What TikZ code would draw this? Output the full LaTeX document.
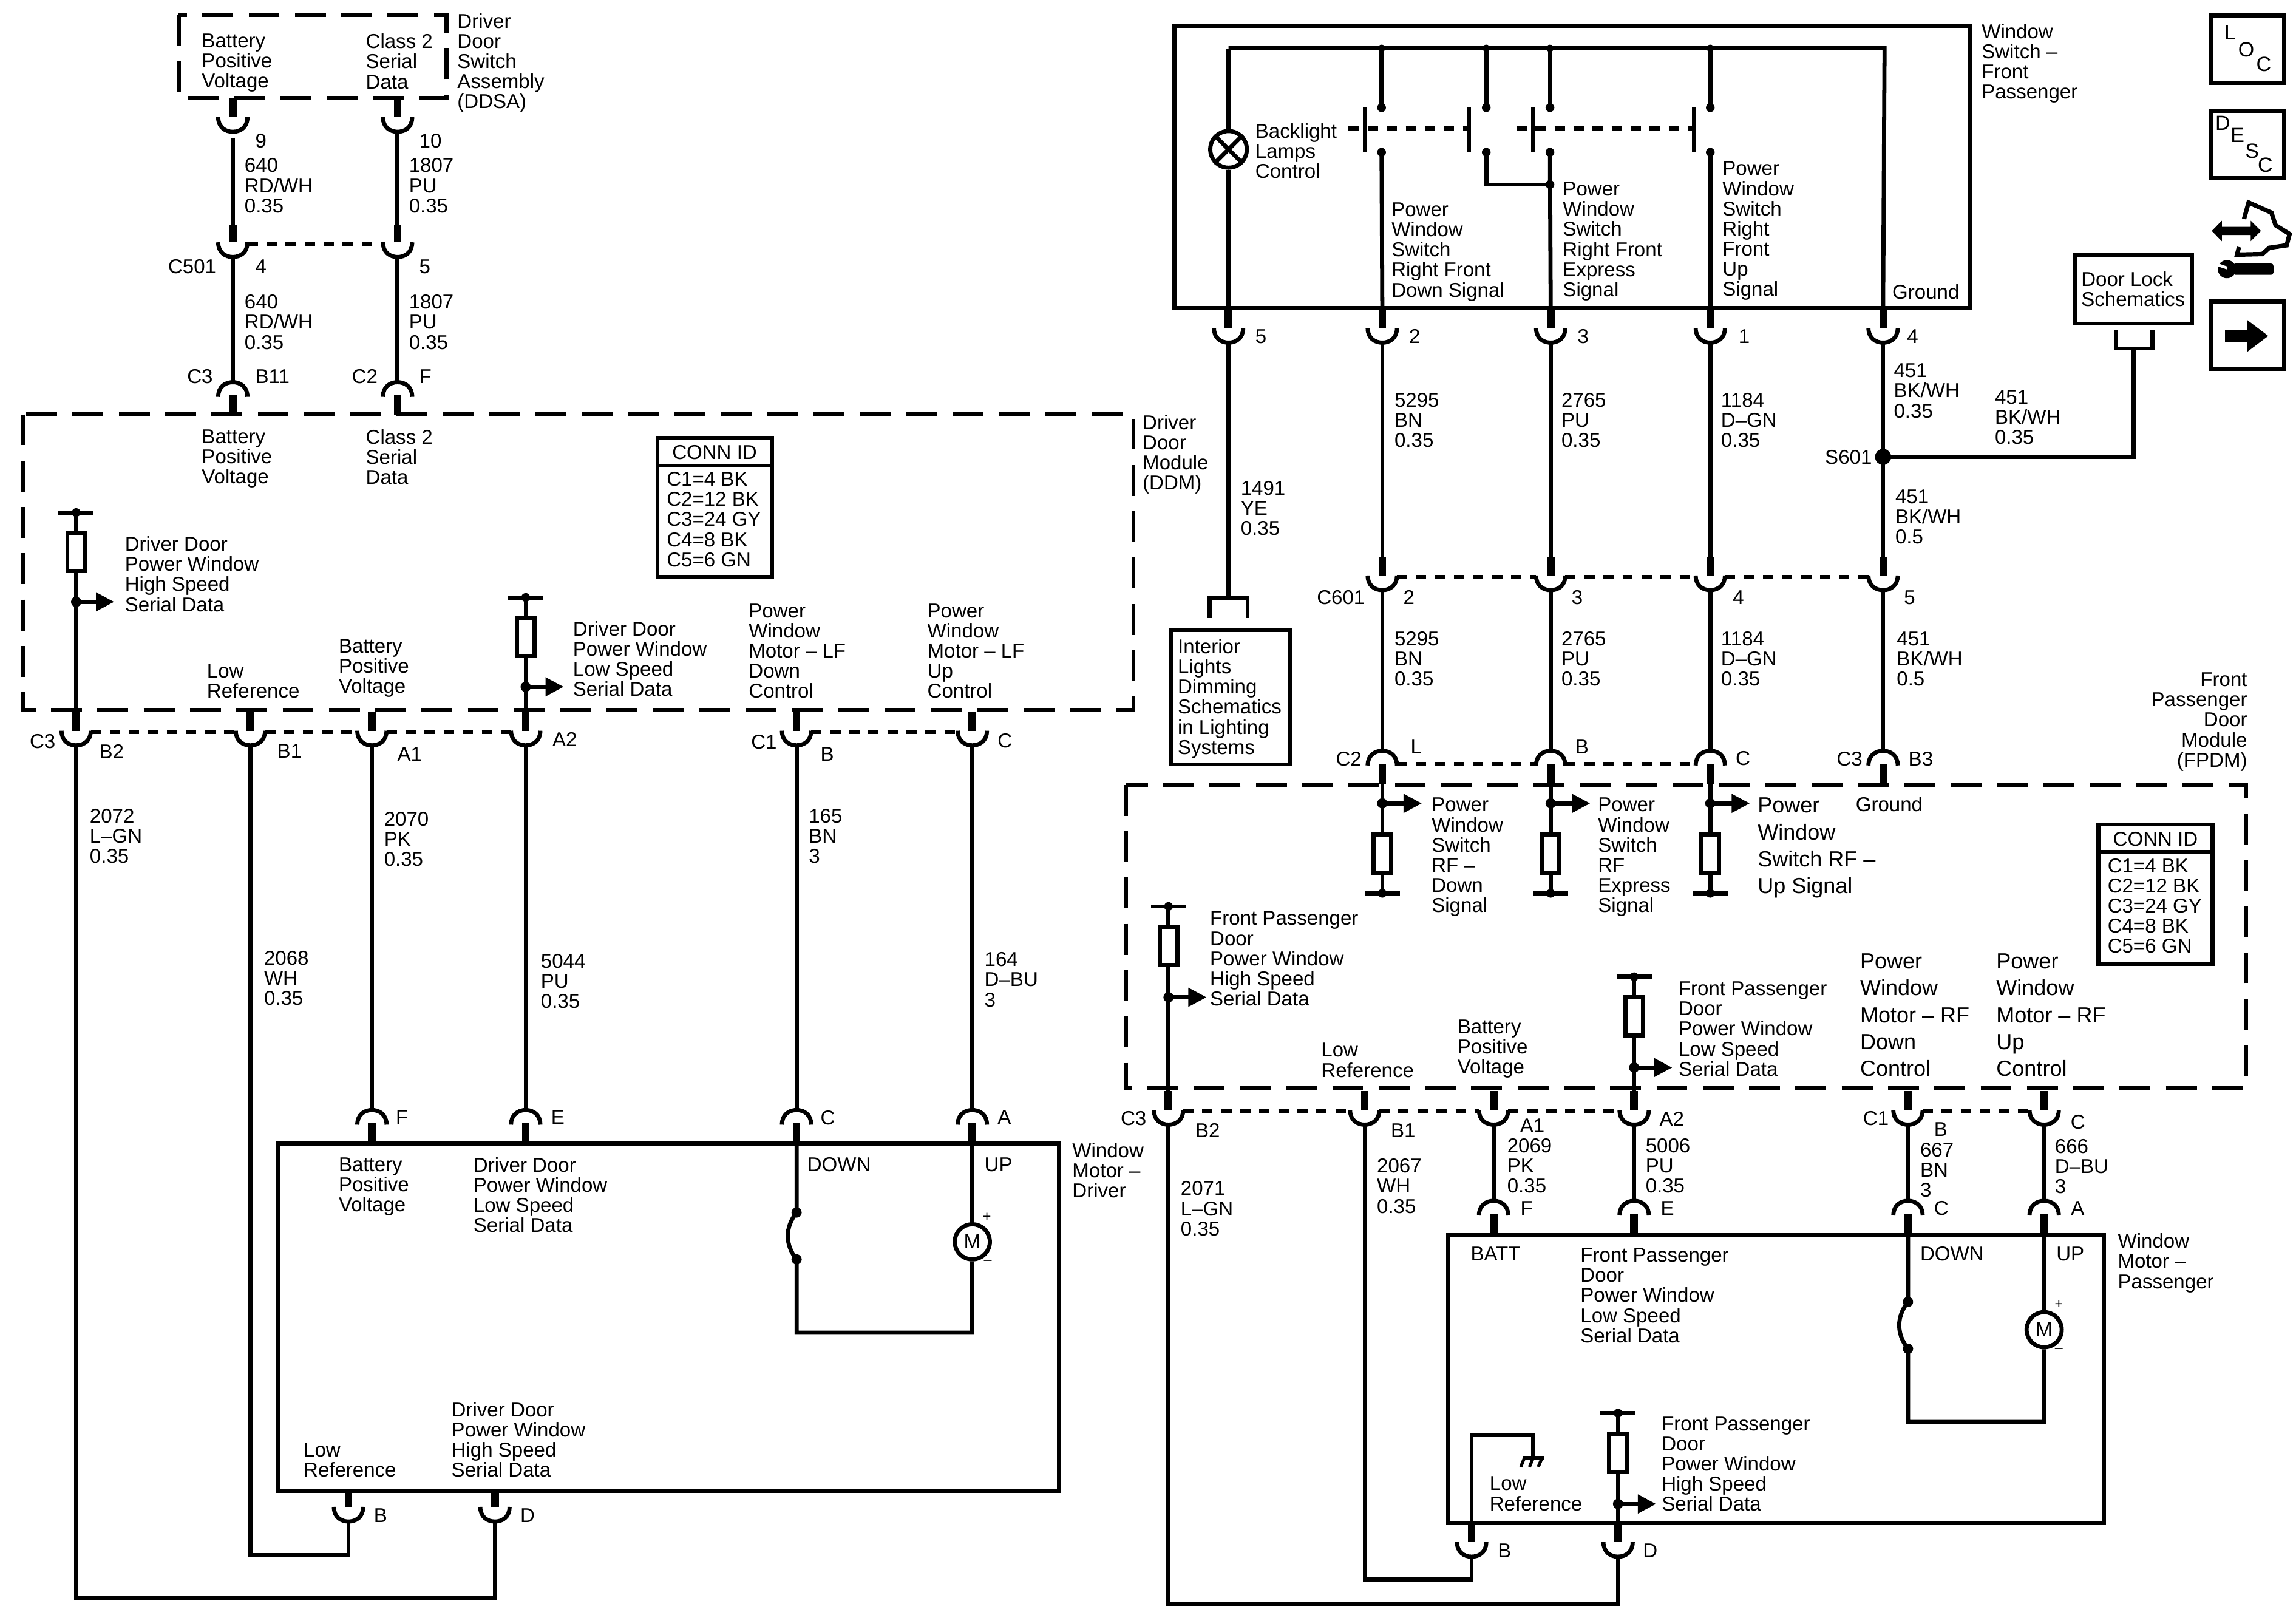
\documentclass[tikz,border=0pt]{standalone}
\usepackage{fontspec}
\setmainfont{Liberation Sans}
\usetikzlibrary{arrows.meta}

\begin{document}
\begin{tikzpicture}[x=0.02cm, y=-0.02cm,
		wire/.style={line width=1.6pt},
		stub/.style={line width=3pt},
		sys/.style={line width=1.7pt},
		modbox/.style={line width=1.6pt, dash pattern=on 12pt off 6pt},
		shortdash/.style={line width=1.6pt, dash pattern=on 4pt off 3.4pt},
		sig/.style={line width=1.6pt, -{Triangle[length=7.1pt, width=7pt]}},
		txt/.style={anchor=north west, align=left, inner sep=0pt, font=\fontsize{7.8}{7.82}\selectfont},
		bigtxt/.style={anchor=north west, align=left, inner sep=0pt, font=\fontsize{8.5}{10.4}\selectfont},
		rtxt/.style={anchor=north east, align=right, inner sep=0pt, font=\fontsize{7.8}{7.82}\selectfont},
		sign/.style={inner sep=0pt, font=\fontsize{5.5}{6}\selectfont},
		letter/.style={inner sep=0pt, font=\fontsize{8}{8}\selectfont},
		motor/.style={circle, draw, line width=1.6pt, fill=white, minimum size=0.48cm, inner sep=0pt, font=\fontsize{7.9}{8}\selectfont},
		lamp/.style={circle, draw, line width=1.6pt, fill=white, minimum size=0.5cm, inner sep=0pt},
		pics/cup/.style={code={
			\draw[wire] (-10,-10) .. controls (-10,-3) and (-5,0) .. (0,0) .. controls (5,0) and (10,-3) .. (10,-10);
			\draw[stub] (0,-10) -- (0,-10-#1);
			\coordinate (-top) at (0,-10-#1);
			\coordinate (-bot) at (0,0);
			\coordinate (-l) at (-10,-9);
			\coordinate (-r) at (10,-9);
		}},
		pics/cup/.default=13,
		pics/cap/.style={code={
			\draw[wire] (-10,10) .. controls (-10,3) and (-5,0) .. (0,0) .. controls (5,0) and (10,3) .. (10,10);
			\draw[stub] (0,9) -- (0,9+#1);
			\coordinate (-top) at (0,0);
			\coordinate (-bot) at (0,9+#1);
			\coordinate (-l) at (-10,9);
			\coordinate (-r) at (10,9);
		}},
		pics/cap/.default=13,
		pics/pullup/.style={code={
			\draw[wire] (-12,0) -- (12,0);
			\fill (0,0) circle (3);
			\draw[wire] (0,0) -- (0,14);
			\draw[wire] (-6,14) rectangle (6,40);
			\coordinate (-out) at (0,40);
		}},
		pics/connid/.style={code={
			\draw[wire] (0,0) rectangle (78,95);
			\draw[wire] (0,19) -- (78,19);
			\node [inner sep=0pt, font=\fontsize{7.8}{7.82}\selectfont] (-head) at (39,10) {CONN ID};
			\node [txt] (-list) at (6,23) {C1=4 BK\\C2=12 BK\\C3=24 GY\\C4=8 BK\\C5=6 GN};
		}}]
	\useasboundingbox (0,0) rectangle (1568,1104.5);

	\draw[modbox] (122,10) rectangle (305,67);
	\draw[modbox] (15.5,283) rectangle (774,485);
	\draw[wire] (190,781) rectangle (723,1018);
	\draw[sys] (802,17.5) rectangle (1345,210.5);
	\draw[modbox] (769,536) rectangle (1534,743);
	\draw[wire] (989,843.5) rectangle (1437,1040);
	\draw[wire] (800,430) rectangle (881,522);
	\draw[wire] (1417,174) rectangle (1497,221);
	\draw[wire] (1510,10.5) rectangle (1560,56.5);
	\draw[wire] (1510,75.5) rectangle (1560,121.5);
	\draw[wire] (1510,206) rectangle (1560,252);

	\pic (t9) at (159,90) {cup};
	\pic (t10) at (271.5,90) {cup};
	\pic (t4) at (159,175.5) {cup=12};
	\pic (t5) at (271.5,175.5) {cup=12};
	\pic (tB11) at (159,261) {cap};
	\pic (tF) at (271.5,261) {cap};
	\pic (dB2) at (52,509) {cup};
	\pic (dB1) at (171,509) {cup};
	\pic (dA1) at (254,509) {cup};
	\pic (dA2) at (359,509) {cup};
	\pic (dB) at (544,509) {cup};
	\pic (dC) at (664,509) {cup};
	\pic (mF) at (254,758) {cap};
	\pic (mE) at (359,758) {cap};
	\pic (mC) at (544,758) {cap};
	\pic (mA) at (664,758) {cap};
	\pic (mB) at (238,1039) {cup=11};
	\pic (mD) at (338,1039) {cup=11};

	\pic (s5) at (839,234) {cup};
	\pic (s2) at (944,234) {cup};
	\pic (s3) at (1059,234) {cup};
	\pic (s1) at (1168,234) {cup};
	\pic (s4) at (1286,234) {cup};
	\pic (j2) at (944,403) {cup};
	\pic (j3) at (1059,403) {cup};
	\pic (j4) at (1168,403) {cup};
	\pic (j5) at (1286,403) {cup};
	\pic (fL) at (944,512.7) {cap=14};
	\pic (fB) at (1059,512.7) {cap=14};
	\pic (fC) at (1168,512.7) {cap=14};
	\pic (fB3) at (1286,512.7) {cap=14};
	\pic (gB2) at (798,768) {cup};
	\pic (gB1) at (932,768) {cup};
	\pic (gA1) at (1020,768) {cup};
	\pic (gA2) at (1116,768) {cup};
	\pic (gB) at (1303,768) {cup};
	\pic (gC) at (1396,768) {cup};
	\pic (nF) at (1020,820) {cap};
	\pic (nE) at (1116,820) {cap};
	\pic (nC) at (1303,820) {cap};
	\pic (nA) at (1396,820) {cap};
	\pic (nB) at (1005,1063) {cup};
	\pic (nD) at (1105,1063) {cup};

	\pic (Rd1) at (52,350) {pullup};
	\pic (Rd2) at (359,408) {pullup};
	\pic (Rg1) at (798,619) {pullup};
	\pic (Rg2) at (1116,667) {pullup};
	\pic (Rn) at (1105,965) {pullup};
	\pic [yscale=-1] (RfL) at (944,610) {pullup};
	\pic [yscale=-1] (RfB) at (1059,610) {pullup};
	\pic [yscale=-1] (RfC) at (1168,610) {pullup};

	\pic (connD) at (449,299) {connid};
	\pic (connF) at (1433,563) {connid};

	\node [motor] (motD) at (664,848) {M};
	\node [motor] (motP) at (1396,908) {M};
	\node [lamp] (lamp) at (839,102) {};
	\draw[wire] (lamp.north west) -- (lamp.south east);
	\draw[wire] (lamp.north east) -- (lamp.south west);

	\coordinate (sigd1) at (52,411);
	\coordinate (sigd2) at (359,469);
	\coordinate (sigg1) at (798,681);
	\coordinate (sigg2) at (1116,729);
	\coordinate (sign) at (1105,1027);
	\coordinate (sigL) at (944,548.6);
	\coordinate (sigB) at (1059,548.6);
	\coordinate (sigC) at (1168,548.6);
	\coordinate (s601) at (1286,312);

	\draw[wire, shorten <=2.3pt] (t9-bot) -- (t4-top);
	\draw[wire] (t10-bot) -- (t5-top);
	\draw[wire] (t4-bot) -- (tB11-top);
	\draw[wire] (t5-bot) -- (tF-top);
	\draw[shortdash] (t4-r) -- (t5-l);

	\draw[shortdash] (dB2-r) -- (dB1-l) (dB1-r) -- (dA1-l) (dA1-r) -- (dA2-l);
	\draw[shortdash] (dB-r) -- (dC-l);
	\draw[wire] (Rd1-out) -- (dB2-top);
	\draw[wire] (Rd2-out) -- (dA2-top);
	\fill (sigd1) circle (3.5);
	\fill (sigd2) circle (3.5);
	\draw[sig] (sigd1) -- ++(26,0);
	\draw[sig] (sigd2) -- ++(26,0);

	\coordinate (cD) at (52,1091);
	\coordinate (cB) at (171,1062);
	\draw[wire] (dB2-bot) -- (cD) -| (mD-bot);
	\draw[wire] (dB1-bot) -- (cB) -| (mB-bot);
	\draw[wire] (dA1-bot) -- (mF-top);
	\draw[wire] (dA2-bot) -- (mE-top);
	\draw[wire] (dB-bot) -- (mC-top);
	\draw[wire] (dC-bot) -- (mA-top);

	\coordinate (swDa) at (544,828);
	\coordinate (swDb) at (544,860);
	\coordinate (cMd) at (544,910);
	\fill (swDa) circle (3.5);
	\fill (swDb) circle (3.5);
	\draw[wire] (mC-bot) -- (swDa) .. controls (536,838) and (536,850) .. (swDb) -- (cMd) -| (motD.south);
	\draw[wire] (mA-bot) -- (motD.north);

	\coordinate (railL) at (839,33);
	\coordinate (railR) at (1287,33);
	\draw[wire] (railL) -- (railR) -- (s4-top);
	\draw[wire] (railL) -- (lamp.north);
	\draw[wire] (lamp.south) -- (s5-top);
	\foreach \n/\x in {a/943.5, b/1015, c/1058.5, d/1168} {
		\coordinate (rail\n) at (\x,33);
		\coordinate (up\n) at (\x,73.5);
		\coordinate (lo\n) at (\x,104);
		\fill (rail\n) circle (2.5);
		\fill (up\n) circle (3);
		\fill (lo\n) circle (3);
		\draw[wire] (rail\n) -- (up\n);
	}
	\coordinate (tie) at (1058.5,126);
	\fill (tie) circle (3);
	\draw[wire] (loa) -- (s2-top);
	\draw[wire] (loc) -- (s3-top);
	\draw[wire] (lod) -- (s1-top);
	\draw[wire] (lob) |- (tie);
	\foreach \x in {932, 1003, 1047, 1157} {
		\draw[wire] (\x,73.5) -- (\x,104);
	}
	\draw[shortdash] (921,87.6) -- (1003,87.6);
	\draw[shortdash] (1035.6,87.6) -- (1157,87.6);

	\draw[wire] (s4-bot) -- (s601) -- (j5-top);
	\fill (s601) circle (5.5);
	\coordinate (lockL) at (1445,225);
	\coordinate (lockB) at (1457,238);
	\coordinate (lockR) at (1470,225);
	\draw[wire] (lockL) |- (lockB) -| (lockR);
	\draw[wire] (s601) -| (lockB);

	\coordinate (intL) at (826,422);
	\coordinate (intT) at (839,408);
	\coordinate (intR) at (852,422);
	\draw[wire] (intL) |- (intT) -| (intR);
	\draw[wire] (s5-bot) -- (intT);

	\draw[wire] (s2-bot) -- (j2-top);
	\draw[wire] (s3-bot) -- (j3-top);
	\draw[wire] (s1-bot) -- (j4-top);
	\draw[shortdash] (j2-r) -- (j3-l) (j3-r) -- (j4-l) (j4-r) -- (j5-l);
	\draw[wire] (j2-bot) -- (fL-top);
	\draw[wire] (j3-bot) -- (fB-top);
	\draw[wire] (j4-bot) -- (fC-top);
	\draw[wire] (j5-bot) -- (fB3-top);
	\draw[shortdash] (fL-r) -- (fB-l) (fB-r) -- (fC-l);

	\draw[wire] (fL-bot) -- (RfL-out);
	\draw[wire] (fB-bot) -- (RfB-out);
	\draw[wire] (fC-bot) -- (RfC-out);
	\fill (sigL) circle (3.5);
	\fill (sigB) circle (3.5);
	\fill (sigC) circle (3.5);
	\draw[sig] (sigL) -- ++(27,0);
	\draw[sig] (sigB) -- ++(27,0);
	\draw[sig] (sigC) -- ++(27,0);

	\draw[shortdash] (gB2-r) -- (gB1-l) (gB1-r) -- (gA1-l) (gA1-r) -- (gA2-l);
	\draw[shortdash] (gB-r) -- (gC-l);
	\draw[wire] (Rg1-out) -- (gB2-top);
	\draw[wire] (Rg2-out) -- (gA2-top);
	\fill (sigg1) circle (3.5);
	\fill (sigg2) circle (3.5);
	\draw[sig] (sigg1) -- ++(26,0);
	\draw[sig] (sigg2) -- ++(26,0);

	\coordinate (cnD) at (798,1095);
	\coordinate (cnB) at (932,1078.6);
	\draw[wire] (gB2-bot) -- (cnD) -| (nD-bot);
	\draw[wire] (gB1-bot) -- (cnB) -| (nB-bot);
	\draw[wire] (gA1-bot) -- (nF-top);
	\draw[wire] (gA2-bot) -- (nE-top);
	\draw[wire] (gB-bot) -- (nC-top);
	\draw[wire] (gC-bot) -- (nA-top);

	\coordinate (swPa) at (1303,889);
	\coordinate (swPb) at (1303,921);
	\coordinate (cMp) at (1303,971);
	\fill (swPa) circle (3.5);
	\fill (swPb) circle (3.5);
	\draw[wire] (nC-bot) -- (swPa) .. controls (1295,899) and (1295,911) .. (swPb) -- (cMp) -| (motP.south);
	\draw[wire] (nA-bot) -- (motP.north);

	\coordinate (gndT) at (1047,980);
	\coordinate (gndB) at (1047,995.7);
	\draw[wire] (nB-top) |- (gndT) -- (gndB);
	\draw[wire] (1040,995.7) -- (1054.3,995.7);
	\foreach \x in {1041, 1047, 1053} {
		\draw[line width=1.2pt] (\x,995.7) -- ++(-2.5,6);
	}
	\draw[wire] (Rn-out) -- (nD-top);
	\fill (sign) circle (3.5);
	\draw[sig] (sign) -- ++(26,0);

	\fill (1510.5,157.7) -- (1517.3,150.7) -- (1517.3,154.9) -- (1537,154.9) -- (1537,150.7) -- (1544,157.7) -- (1537,164.7) -- (1537,160.5) -- (1517.3,160.5) -- (1517.3,164.7) -- cycle;
	\draw[line width=1.7pt, line join=miter] (1532.5,149.5) -- (1535.6,138.3) -- (1551.2,145.2) -- (1554,153.8) -- (1563.6,159.8) -- (1561.6,167.5) -- (1549.8,169.2) -- (1545,173.5) -- (1527.7,173.9) -- (1529,168.7);
	\fill (1520.8,183.8) circle (6.2);
	\fill[rounded corners=1pt] (1525,179.9) rectangle (1552.6,187.7);
	\draw[white, line width=1.1pt] (1515,181) -- (1521,183);
	\fill (1519.5,225.4) rectangle (1534.5,233.4);
	\fill (1534.5,218.4) -- (1549,229.4) -- (1534.5,240.4) -- cycle;

	\node [letter] (locL) at (1523,22.3) {L};
	\node [letter] (locO) at (1534,34) {O};
	\node [letter] (locC) at (1546,44) {C};
	\node [letter] (descD) at (1518,84) {D};
	\node [letter] (descE) at (1528,92.4) {E};
	\node [letter] (descS) at (1538,103) {S};
	\node [letter] (descC) at (1547,112.5) {C};

	\node [txt] (tBat) at (137.5,22.8) {Battery\\Positive\\Voltage};
	\node [txt] (tCl) at (249.5,22.8) {Class 2\\Serial\\Data};
	\node [txt] (tDdsa) at (312,8.9) {Driver\\Door\\Switch\\Assembly\\(DDSA)};
	\node [txt] (l9) at (174,91) {9};
	\node [txt] (l10) at (286,91) {10};
	\node [txt] (w640a) at (166.7,107.8) {640\\RD/WH\\0.35};
	\node [txt] (w1807a) at (279,107.8) {1807\\PU\\0.35};
	\node [txt] (lC501) at (114.5,177) {C501};
	\node [txt] (l4) at (174,177) {4};
	\node [txt] (l5) at (286,177) {5};
	\node [txt] (w640b) at (166.7,201) {640\\RD/WH\\0.35};
	\node [txt] (w1807b) at (279,201) {1807\\PU\\0.35};
	\node [txt] (lC3a) at (127.5,252) {C3};
	\node [txt] (lB11) at (174,252) {B11};
	\node [txt] (lC2a) at (240,252) {C2};
	\node [txt] (lFa) at (286,252) {F};
	\node [txt] (dBat) at (137.5,293) {Battery\\Positive\\Voltage};
	\node [txt] (dCl) at (249.5,293) {Class 2\\Serial\\Data};
	\node [txt] (dDdm) at (780,283) {Driver\\Door\\Module\\(DDM)};
	\node [txt] (dHigh) at (85,366) {Driver Door\\Power Window\\High Speed\\Serial Data};
	\node [txt] (dLow) at (141,453) {Low\\Reference};
	\node [txt] (dBat2) at (231,436) {Battery\\Positive\\Voltage};
	\node [txt] (dSlow) at (391,424) {Driver Door\\Power Window\\Low Speed\\Serial Data};
	\node [txt] (dDown) at (511,412) {Power\\Window\\Motor – LF\\Down\\Control};
	\node [txt] (dUp) at (633,412) {Power\\Window\\Motor – LF\\Up\\Control};

	\node [txt] (lC3b) at (20,501) {C3};
	\node [txt] (lB2) at (67.5,508) {B2};
	\node [txt] (lB1) at (189,508) {B1};
	\node [txt] (lA1) at (271,510) {A1};
	\node [txt] (lA2) at (377,500) {A2};
	\node [txt] (lC1) at (512.6,501.5) {C1};
	\node [txt] (lBb) at (560,510) {B};
	\node [txt] (lCb) at (681,500.5) {C};
	\node [txt] (w2072) at (61,552) {2072\\L–GN\\0.35};
	\node [txt] (w2068) at (180,649) {2068\\WH\\0.35};
	\node [txt] (w2070) at (262,554) {2070\\PK\\0.35};
	\node [txt] (w5044) at (369,651) {5044\\PU\\0.35};
	\node [txt] (w165) at (552,552) {165\\BN\\3};
	\node [txt] (w164) at (672,650) {164\\D–BU\\3};
	\node [txt] (lFc) at (270,758) {F};
	\node [txt] (lEc) at (376,758) {E};
	\node [txt] (lCc) at (560,758) {C};
	\node [txt] (lAc) at (681,758) {A};
	\node [txt] (mBat) at (231,790) {Battery\\Positive\\Voltage};
	\node [txt] (mSlow) at (323,790) {Driver Door\\Power Window\\Low Speed\\Serial Data};
	\node [txt] (mDown) at (551,790) {DOWN};
	\node [txt] (mUp) at (672,790) {UP};
	\node [txt] (mName) at (732,780) {Window\\Motor –\\Driver};
	\node [sign] (mPlus) at (674,831) {+};
	\node [sign] (mMinus) at (674.6,862) {–};
	\node [txt] (mLow) at (207,985) {Low\\Reference};
	\node [txt] (mHigh) at (308,957) {Driver Door\\Power Window\\High Speed\\Serial Data};
	\node [txt] (lBd) at (255,1030) {B};
	\node [txt] (lDd) at (355,1030) {D};

	\node [txt] (sBack) at (857,84) {Backlight\\Lamps\\Control};
	\node [txt] (sDown) at (950,138) {Power\\Window\\Switch\\Right Front\\Down Signal};
	\node [txt] (sExp) at (1067,124) {Power\\Window\\Switch\\Right Front\\Express\\Signal};
	\node [txt] (sUp) at (1176,110) {Power\\Window\\Switch\\Right\\Front\\Up\\Signal};
	\node [txt] (sGnd) at (1292,194) {Ground};
	\node [txt] (sName) at (1353,16) {Window\\Switch –\\Front\\Passenger};
	\node [txt] (lockT) at (1421,185) {Door Lock\\Schematics};
	\node [txt] (ls5) at (857,224.6) {5};
	\node [txt] (ls2) at (962,224.6) {2};
	\node [txt] (ls3) at (1077,224.6) {3};
	\node [txt] (ls1) at (1187,224.6) {1};
	\node [txt] (ls4) at (1302,224.6) {4};
	\node [txt] (w5295a) at (952,268) {5295\\BN\\0.35};
	\node [txt] (w2765a) at (1066,268) {2765\\PU\\0.35};
	\node [txt] (w1184a) at (1175,268) {1184\\D–GN\\0.35};
	\node [txt] (w451a) at (1293,248) {451\\BK/WH\\0.35};
	\node [txt] (w451b) at (1362,266) {451\\BK/WH\\0.35};
	\node [txt] (lS601) at (1246,307) {S601};
	\node [txt] (w451c) at (1294,334) {451\\BK/WH\\0.5};
	\node [txt] (w1491) at (847,328) {1491\\YE\\0.35};
	\node [txt] (intT1) at (804,436) {Interior\\Lights\\Dimming\\Schematics\\in Lighting\\Systems};
	\node [txt] (lC601) at (899,403) {C601};
	\node [txt] (lj2) at (958,403) {2};
	\node [txt] (lj3) at (1073,403) {3};
	\node [txt] (lj4) at (1183,403) {4};
	\node [txt] (lj5) at (1300,403) {5};
	\node [txt] (w5295b) at (952,431) {5295\\BN\\0.35};
	\node [txt] (w2765b) at (1066,431) {2765\\PU\\0.35};
	\node [txt] (w1184b) at (1175,431) {1184\\D–GN\\0.35};
	\node [txt] (w451d) at (1295,431) {451\\BK/WH\\0.5};
	\node [txt] (lC2f) at (912,513) {C2};
	\node [txt] (lLf) at (963,505) {L};
	\node [txt] (lBf) at (1075.5,505) {B};
	\node [txt] (lCf) at (1185,512.7) {C};
	\node [txt] (lC3f) at (1254,513) {C3};
	\node [txt] (lB3f) at (1303,513) {B3};
	\node [txt] (fGnd) at (1267,544) {Ground};
	\node [rtxt] (fName) at (1535,459) {Front\\Passenger\\Door\\Module\\(FPDM)};
	\node [txt] (fL1) at (977.4,544.5) {Power\\Window\\Switch\\RF –\\Down\\Signal};
	\node [txt] (fB1) at (1091,544.5) {Power\\Window\\Switch\\RF\\Express\\Signal};
	\node [bigtxt] (fC1) at (1200,544.5) {Power\\Window\\Switch RF –\\Up Signal};
	\node [txt] (gHigh) at (826,622) {Front Passenger\\Door\\Power Window\\High Speed\\Serial Data};
	\node [txt] (gLow) at (902,712) {Low\\Reference};
	\node [txt] (gBat) at (995,696) {Battery\\Positive\\Voltage};
	\node [txt] (gSlow) at (1146,670) {Front Passenger\\Door\\Power Window\\Low Speed\\Serial Data};
	\node [bigtxt] (gDown) at (1270,651) {Power\\Window\\Motor – RF\\Down\\Control};
	\node [bigtxt] (gUp) at (1363,651) {Power\\Window\\Motor – RF\\Up\\Control};

	\node [txt] (lC3g) at (765,758.7) {C3};
	\node [txt] (lB2g) at (816,767) {B2};
	\node [txt] (lB1g) at (949.5,767) {B1};
	\node [txt] (lA1g) at (1037.7,763.6) {A1};
	\node [txt] (lA2g) at (1133,759) {A2};
	\node [txt] (lC1g) at (1272,758.7) {C1};
	\node [txt] (lBg) at (1320.5,766) {B};
	\node [txt] (lCg) at (1413.8,761) {C};
	\node [txt] (w2071) at (806,806.4) {2071\\L–GN\\0.35};
	\node [txt] (w2067) at (940,791) {2067\\WH\\0.35};
	\node [txt] (w2069) at (1029,777) {2069\\PK\\0.35};
	\node [txt] (w5006) at (1123.5,777) {5006\\PU\\0.35};
	\node [txt] (w667) at (1311,780) {667\\BN\\3};
	\node [txt] (w666) at (1403,777.6) {666\\D–BU\\3};
	\node [txt] (lFn) at (1038,820) {F};
	\node [txt] (lEn) at (1133.8,820) {E};
	\node [txt] (lCn) at (1320.5,820) {C};
	\node [txt] (lAn) at (1414,820) {A};
	\node [txt] (nBatt) at (1004,851) {BATT};
	\node [txt] (nSlow) at (1079,852) {Front Passenger\\Door\\Power Window\\Low Speed\\Serial Data};
	\node [txt] (nDown) at (1311,851) {DOWN};
	\node [txt] (nUp) at (1404,851) {UP};
	\node [txt] (nName) at (1446,842) {Window\\Motor –\\Passenger};
	\node [sign] (nPlus) at (1406,891) {+};
	\node [sign] (nMinus) at (1406,922) {–};
	\node [txt] (nLow) at (1017,1008) {Low\\Reference};
	\node [txt] (nHigh) at (1134.5,967) {Front Passenger\\Door\\Power Window\\High Speed\\Serial Data};
	\node [txt] (lBn) at (1022.6,1053.7) {B};
	\node [txt] (lDn) at (1121.7,1053.7) {D};
\end{tikzpicture}
\end{document}
